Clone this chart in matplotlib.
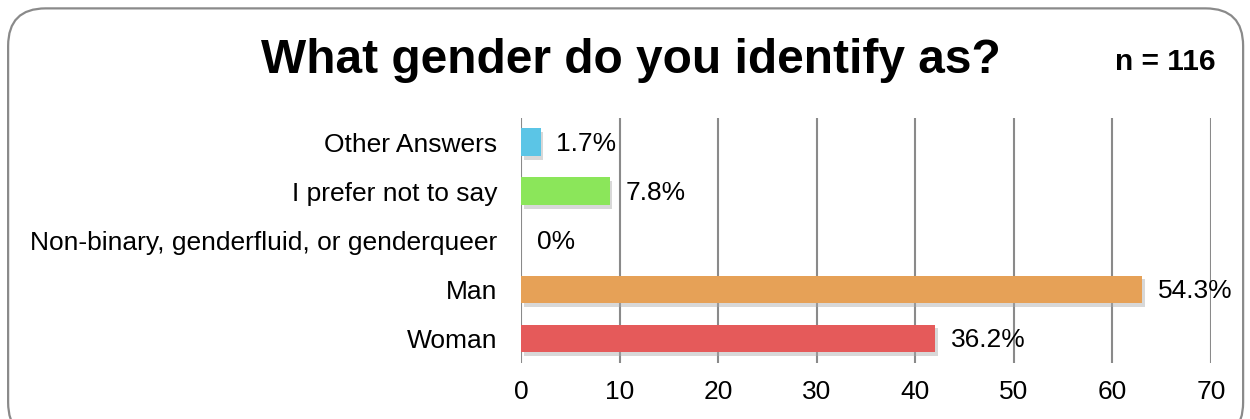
import matplotlib.pyplot as plt
import matplotlib.patheffects as pe
from matplotlib.patches import FancyBboxPatch

plt.rcParams['font.family'] = ['Liberation Sans', 'DejaVu Sans']

N = 116
categories = ["Woman", "Man", "Non-binary, genderfluid, or genderqueer",
              "I prefer not to say", "Other Answers"]
counts = [42, 63, 0, 9, 2]
colors = ["#E55A5A", "#E6A157", "#BBBBBB", "#8BE65A", "#5BC5E6"]
xticks = [0, 10, 20, 30, 40, 50, 60, 70]

fig = plt.figure(figsize=(12.5, 4.19), dpi=100)

# rounded frame round the whole chart
frame = FancyBboxPatch((0.0065, -0.05), 0.988, 1.03,
                       boxstyle="round,pad=0,rounding_size=0.03",
                       transform=fig.transFigure, fill=False,
                       edgecolor="#8a8a8a", linewidth=1.6,
                       mutation_aspect=1250 / 419)
fig.patches.append(frame)

ax = fig.add_axes([0.4168, 0.1336, 0.552, 0.585])

ypos = range(len(categories))
shadow = [pe.SimplePatchShadow(offset=(2, -2.5), shadow_rgbFace="#aaaaaa", alpha=0.45),
          pe.Normal()]
bars = ax.barh(ypos, counts, height=0.57, color=colors, zorder=3)
for b in bars:
    b.set_path_effects(shadow)

for y, c in zip(ypos, counts):
    pct = 100 * c / N
    txt = "0%" if c == 0 else f"{pct:.1f}%"
    ax.text(c + 1.6, y - 0.03, txt, va="center", ha="left", fontsize=19, zorder=4)

ax.set_xlim(0, 70)
ax.set_ylim(-0.5, 4.5)
ax.set_xticks(xticks)
ax.set_yticks(list(ypos))
ax.set_yticklabels(categories)
ax.tick_params(axis="both", length=0, labelsize=19)
ax.tick_params(axis="x", pad=12)
ax.tick_params(axis="y", pad=17)
ax.grid(axis="x", color="#8a8a8a", linewidth=1.5, zorder=0)
for s in ax.spines.values():
    s.set_visible(False)

fig.text(0.505, 0.855, "What gender do you identify as?", ha="center", va="center",
         fontsize=34.5, fontweight="bold")
fig.text(0.932, 0.852, "n = 116", ha="center", va="center",
         fontsize=21.5, fontweight="bold")

fig.savefig("out.png", dpi=100)
